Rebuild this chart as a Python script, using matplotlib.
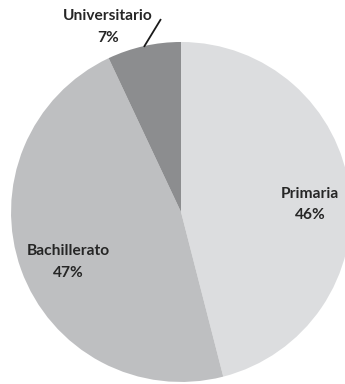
import matplotlib
matplotlib.use("Agg")
import matplotlib.pyplot as plt

categories = ["Primaria", "Bachillerato", "Universitario"]
values = [46, 47, 7]
colors = ["#dcdddf", "#bebfc1", "#8c8d8f"]

plt.rcParams['font.family'] = ['Lato', 'DejaVu Sans']

fig = plt.figure(figsize=(3.45, 3.84), dpi=100)
ax = fig.add_axes([0, 0, 1, 1])
ax.pie(values, colors=colors, startangle=90, counterclock=False,
       radius=1, center=(0, 0), wedgeprops=dict(linewidth=0))
ax.set_xlim(-1.065, 0.965)
ax.set_ylim(-1.012, 1.247)
ax.set_aspect('auto')
ax.axis('off')

txt = dict(ha='center', va='center', fontsize=11.2, fontweight='bold',
           color='#262626', linespacing=1.65)
labels = [f"{c}\n{v}%" for c, v in zip(categories, values)]
ax.text(0.759, 0.044, labels[0], **txt)
ax.text(-0.665, -0.294, labels[1], **txt)
ax.text(-0.43, 1.088, labels[2], **txt)
# leader line for the small slice
ax.plot([-0.218, -0.118], [0.971, 1.135], color='#1a1a1a', lw=1.3,
        solid_capstyle='butt')

fig.savefig("out.png", dpi=100)
